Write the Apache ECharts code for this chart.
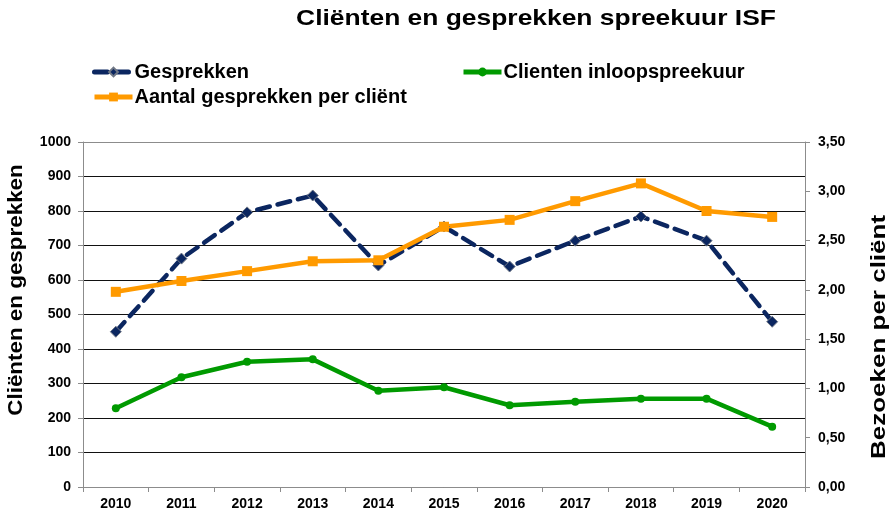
<!DOCTYPE html>
<html>
<head>
<meta charset="utf-8">
<script src="https://cdn.jsdelivr.net/npm/echarts@6/dist/echarts.min.js"></script>
<style>html,body{margin:0;padding:0;background:#fff;}#c{width:894px;height:511px;}</style>
</head>
<body>
<div id="c"></div>
<script>
var years = ['2010','2011','2012','2013','2014','2015','2016','2017','2018','2019','2020'];
var gesprekken = [450, 662, 796, 845, 642, 755, 639, 714, 784, 714, 479];
var clientenInloop = [228, 318, 363, 370, 279, 289, 237, 247, 256, 256, 175];
var gesprekkenPerClient = [1.98, 2.09, 2.19, 2.29, 2.30, 2.64, 2.71, 2.90, 3.08, 2.80, 2.74];
var leftTicks = {min: 0, max: 1000, interval: 100};
var rightTicks = {min: 0, max: 3.5, interval: 0.5};

var FONT = '"Liberation Sans", Arial, sans-serif';
var chart = echarts.init(document.getElementById('c'), null, {renderer: 'canvas'});
var splitColors = [];
for (var i = 0; i < 10; i++) splitColors.push('#111');
splitColors.push('#8c8c8c');

var legendText = {fontSize: 20, fontWeight: 'bold', color: '#000', fontFamily: FONT, padding: [0,0,0,-3]};
function mkLegend(name, left, top) {
  return {data: [name], left: left, top: top, padding: 0, itemWidth: 38, itemHeight: 11,
    lineStyle: {width: 5}, textStyle: legendText};
}

chart.setOption({
  animation: false,
  backgroundColor: '#fff',
  textStyle: {fontFamily: FONT},
  graphic: [
    {type: 'text', x: 536, y: 19, scaleX: 1.2, style: {text: 'Cliënten en gesprekken spreekuur ISF', font: 'bold 22px ' + FONT, fill: '#000', align: 'center', verticalAlign: 'middle'}},
    {type: 'text', x: 16, y: 290, rotation: Math.PI / 2, scaleX: 1.12, style: {text: 'Cliënten en gesprekken', font: 'bold 20px ' + FONT, fill: '#000', align: 'center', verticalAlign: 'middle'}},
    {type: 'text', x: 879, y: 337, rotation: Math.PI / 2, scaleX: 1.3, style: {text: 'Bezoeken per cliënt', font: 'bold 20px ' + FONT, fill: '#000', align: 'center', verticalAlign: 'middle'}}
  ],
  legend: [
    mkLegend('Gesprekken', 92, 62),
    mkLegend('Clienten inloopspreekuur', 461, 62),
    mkLegend('Aantal gesprekken per cliënt', 92, 87)
  ],
  grid: {left: 83, right: 89, top: 142, bottom: 24, containLabel: false},
  xAxis: {
    type: 'category',
    data: years,
    boundaryGap: true,
    axisLine: {lineStyle: {color: '#8c8c8c', width: 1}},
    axisTick: {show: true, length: 5, inside: false, lineStyle: {color: '#8c8c8c'}},
    axisLabel: {fontSize: 14, fontWeight: 'bold', color: '#000', margin: 10, fontFamily: FONT},
    splitLine: {show: false}
  },
  yAxis: [
    {
      type: 'value', min: leftTicks.min, max: leftTicks.max, interval: leftTicks.interval,
      axisLine: {show: true, lineStyle: {color: '#8c8c8c'}},
      axisTick: {show: true, length: 5, lineStyle: {color: '#8c8c8c'}},
      axisLabel: {fontSize: 14, fontWeight: 'bold', color: '#000', margin: 12, fontFamily: FONT,
        formatter: function (v) { return String(v); }},
      splitLine: {show: true, lineStyle: {color: splitColors, width: 1}}
    },
    {
      type: 'value', position: 'right', min: rightTicks.min, max: rightTicks.max, interval: rightTicks.interval,
      axisLine: {show: true, lineStyle: {color: '#8c8c8c'}},
      axisTick: {show: true, length: 5, lineStyle: {color: '#8c8c8c'}},
      axisLabel: {fontSize: 14, fontWeight: 'bold', color: '#000', margin: 13, fontFamily: FONT,
        formatter: function (v) { return v.toFixed(2).replace('.', ','); }},
      splitLine: {show: false}
    }
  ],
  series: [
    {
      name: 'Gesprekken', type: 'line', yAxisIndex: 0, data: gesprekken,
      symbol: 'diamond', symbolSize: 11,
      lineStyle: {color: '#0b2660', width: 4.5, type: [13, 8], cap: 'round'},
      itemStyle: {color: '#0b2660', borderColor: '#6f7785', borderWidth: 1}
    },
    {
      name: 'Clienten inloopspreekuur', type: 'line', yAxisIndex: 0, data: clientenInloop,
      symbol: 'circle', symbolSize: 8,
      lineStyle: {color: '#009a00', width: 4.5},
      itemStyle: {color: '#009a00'}
    },
    {
      name: 'Aantal gesprekken per cliënt', type: 'line', yAxisIndex: 1, data: gesprekkenPerClient,
      symbol: 'rect', symbolSize: 10,
      lineStyle: {color: '#ff9a00', width: 4.5},
      itemStyle: {color: '#ff9a00'}
    }
  ]
});
</script>
</body>
</html>
